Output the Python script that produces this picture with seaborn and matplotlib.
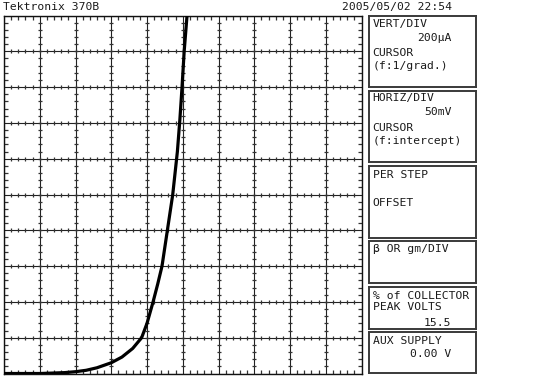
import matplotlib
matplotlib.use("Agg")
import matplotlib.pyplot as plt
import numpy as np
import pandas as pd
import seaborn as sns

# diode forward curve (mV, uA)
v_mv = [0, 50, 65, 85, 100, 115, 130, 150, 165, 180, 192.5, 200, 208.5, 215, 221,
        228.5, 236, 242.5, 246, 249, 252, 256, 258]
i_ua = [0, 0, 2, 5, 10, 18, 32, 60, 92, 140, 200, 280, 400, 500, 600,
        800, 1000, 1240, 1420, 1600, 1800, 2000, 2120]

header_left = "Tektronix 370B"
header_right = "2005/05/02 22:54"

# readout panels: (top px, bottom px, [(text, y px, align)])
panels = [
    (16, 87, [("VERT/DIV", 24, "l"), ("200µA", 37.7, "r"), ("CURSOR", 53, "l"), ("(f:1/grad.)", 65.7, "l")]),
    (91, 162, [("HORIZ/DIV", 98.3, "l"), ("50mV", 112.3, "r"), ("CURSOR", 128.3, "l"), ("(f:intercept)", 141, "l")]),
    (166, 238, [("PER STEP", 175, "l"), ("OFFSET", 203.3, "l")]),
    (241, 283, [("β OR gm/DIV", 249.3, "l")]),
    (287, 329, [("% of COLLECTOR", 295.7, "l"), ("PEAK VOLTS", 306.7, "l"), ("15.5", 322.7, "r")]),
    (332, 373, [("AUX SUPPLY", 341, "l"), ("0.00 V", 354.3, "r")]),
]

W, H = 550, 378
sns.set_style("white")
plt.rcParams["font.family"] = ["DejaVu Sans Mono", "DejaVu Sans"]
fig = plt.figure(figsize=(W / 100, H / 100), dpi=100)


def fx(px):
    return px / W


def fy(py):
    return 1 - py / H


left, right, top, bottom = 4, 361.5, 15.5, 373.5
ax = fig.add_axes([fx(left), fy(bottom), fx(right - left), (bottom - top) / H])

df = pd.DataFrame({"V": v_mv, "I": i_ua})
sns.lineplot(data=df, x="V", y="I", ax=ax, color="black", lw=2.3, sort=False,
             solid_joinstyle="round", solid_capstyle="round", zorder=5)

ax.set_xlim(0, 500)
ax.set_ylim(0, 2000)
ax.set_xticks(np.arange(0, 501, 50))
ax.set_yticks(np.arange(0, 2001, 200))
ax.set_xticks(np.arange(0, 501, 10), minor=True)
ax.set_yticks(np.arange(0, 2001, 40), minor=True)
ax.tick_params(which="major", length=0, labelbottom=False, labelleft=False)
ax.tick_params(which="minor", direction="in", length=3, width=0.9, color="#333333",
               top=True, right=True, bottom=True, left=True)
ax.set_xlabel("")
ax.set_ylabel("")
ax.grid(True, which="major", color="#222222", lw=0.8)
for s in ax.spines.values():
    s.set_color("#111111")
    s.set_linewidth(1.0)

# minor graticule marks along each inner grid line
xm = np.arange(10, 500, 10)
ym = np.arange(40, 2000, 40)
for gx in range(50, 500, 50):
    ax.plot(np.full(len(ym), gx), ym, ls="none", marker="_", ms=2.2, mew=0.9, color="#333333", zorder=2)
for gy in range(200, 2000, 200):
    ax.plot(xm, np.full(len(xm), gy), ls="none", marker="|", ms=2.2, mew=0.9, color="#333333", zorder=2)

txt = dict(fontsize=8.2, color="#1a1a1a", va="center")
fig.text(fx(3), fy(7), header_left, ha="left", **txt)
fig.text(fx(452), fy(7), header_right, ha="right", **txt)

box_l, box_r = 369, 476
for top_px, bot_px, lines in panels:
    bx = fig.add_axes([fx(box_l), fy(bot_px), fx(box_r - box_l), (bot_px - top_px) / H])
    bx.set_xticks([])
    bx.set_yticks([])
    for s in bx.spines.values():
        s.set_color("#3a3a3a")
        s.set_linewidth(1.4)
    for text, ypx, al in lines:
        if al == "l":
            fig.text(fx(372.7), fy(ypx), text, ha="left", **txt)
        else:
            fig.text(fx(451.5), fy(ypx), text, ha="right", **txt)

fig.savefig("out.png", dpi=100)
